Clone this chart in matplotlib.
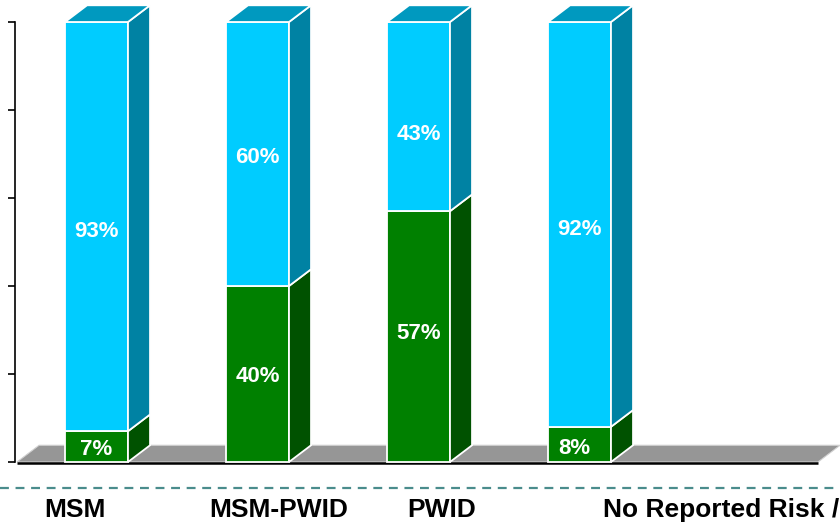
import matplotlib
matplotlib.use("Agg")
import matplotlib.pyplot as plt
from matplotlib.patches import Polygon
from matplotlib.lines import Line2D

# ---- data ----
categories = ["MSM", "MSM-PWID", "PWID", "No Reported Risk /"]
green_vals = [7, 40, 57, 8]
blue_vals = [93, 60, 43, 92]
green_labels = ["7%", "40%", "57%", "8%"]
blue_labels = ["93%", "60%", "43%", "92%"]

# ---- style ----
BLUE_FRONT, BLUE_SIDE, BLUE_TOP = "#00CCFF", "#0082A3", "#0099BF"
GREEN_FRONT, GREEN_SIDE, GREEN_TOP = "#008000", "#005200", "#006600"
FLOOR = "#969696"
W = 0.391     # bar width (x units)
DX = 0.137    # depth offset in x units
DY = 3.8      # depth offset in y units (%)
# label nudges in pixels (dx, dy)
green_nudge = [(0, -3), (0, -3), (0, 3), (-5, -4)]
blue_nudge = [(0, -5), (0, -3), (0, -18), (0, -5)]

plt.rcParams["font.family"] = ["Liberation Sans", "DejaVu Sans"]
fig = plt.figure(figsize=(8.4, 5.23), dpi=100)
ax = fig.add_axes([15 / 840, 61 / 523, 825 / 840, 440 / 523])
ax.set_xlim((15 - 96.5) / 161, (840 - 96.5) / 161)
ax.set_ylim(0, 100)
for s in ("top", "right", "bottom"):
    ax.spines[s].set_visible(False)
ax.spines["left"].set_linewidth(1.2)
ax.set_yticks([0, 20, 40, 60, 80, 100])
ax.set_yticklabels([])
ax.set_xticks([])
ax.tick_params(axis="y", direction="out", length=5, width=1.2)


def add_poly(pts, fc, z):
    ax.add_patch(Polygon(pts, closed=True, facecolor=fc, edgecolor="white",
                         linewidth=1.3, zorder=z, clip_on=False))


# floor
fx0, fx1 = (17 - 96.5) / 161, (818 - 96.5) / 161
ax.add_patch(Polygon([(fx0, 0), (fx1, 0), (fx1 + DX, DY), (fx0 + DX, DY)],
                     closed=True, facecolor=FLOOR, edgecolor="#d0d0d0",
                     linewidth=0.8, zorder=1, clip_on=False))
ax.plot([fx0, fx1], [-0.15, -0.15], color="black", lw=1.8, zorder=1.5,
        clip_on=False, solid_capstyle="butt")

for i, (g, b) in enumerate(zip(green_vals, blue_vals)):
    x0, x1 = i - W / 2, i + W / 2
    top = g + b
    z = 3 + i
    # green segment
    add_poly([(x0, 0), (x1, 0), (x1, g), (x0, g)], GREEN_FRONT, z)
    add_poly([(x1, 0), (x1 + DX, DY), (x1 + DX, g + DY), (x1, g)], GREEN_SIDE, z)
    # blue segment
    add_poly([(x0, g), (x1, g), (x1, top), (x0, top)], BLUE_FRONT, z + 0.1)
    add_poly([(x1, g), (x1 + DX, g + DY), (x1 + DX, top + DY), (x1, top)], BLUE_SIDE, z + 0.1)
    add_poly([(x0, top), (x1, top), (x1 + DX, top + DY), (x0 + DX, top + DY)], BLUE_TOP, z + 0.1)
    ax.annotate(green_labels[i], (i, g / 2), xytext=green_nudge[i],
                textcoords="offset pixels", color="white", fontsize=16,
                fontweight="bold", ha="center", va="center", zorder=20)
    ax.annotate(blue_labels[i], (i, g + b / 2), xytext=blue_nudge[i],
                textcoords="offset pixels", color="white", fontsize=16,
                fontweight="bold", ha="center", va="center", zorder=20)

# dashed separator
fig.add_artist(Line2D([0, 1], [1 - 488 / 523, 1 - 488 / 523],
                      transform=fig.transFigure, color="#4A8C8C", lw=1.6,
                      linestyle=(0, (4, 3))))

# category labels
label_x = [75, 279, 442, 603]
label_ha = ["center", "center", "center", "left"]
for lab, lx, ha in zip(categories, label_x, label_ha):
    fig.text(lx / 840, 1 - 510 / 523, lab, fontsize=19, fontweight="bold",
             ha=ha, va="center", color="black")

fig.savefig("out.png", dpi=100)
